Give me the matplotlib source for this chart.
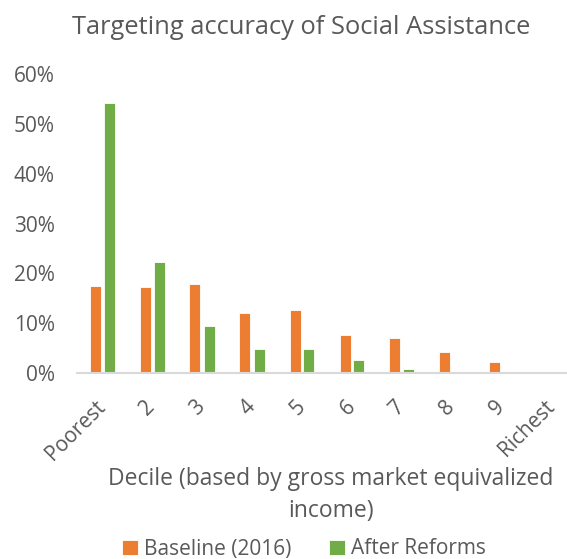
import numpy as np
import matplotlib.pyplot as plt

plt.rcParams['font.family'] = ['Open Sans', 'DejaVu Sans']

deciles = ['Poorest', '2', '3', '4', '5', '6', '7', '8', '9', 'Richest']
baseline = [17.5, 17.3, 17.8, 12.1, 12.7, 7.7, 7.0, 4.3, 2.2, 0.0]
after = [54.2, 22.3, 9.4, 4.8, 4.8, 2.6, 0.8, -0.1, 0.2, 0.0]

orange = '#ED7D31'
green = '#70AD47'
grey = '#595959'

W, H = 567, 559
fig = plt.figure(figsize=(W / 100, H / 100), dpi=100)
# plot area runs a bit past the right edge
ax = fig.add_axes([77 / W, 1 - 373 / H, 500 / W, (373 - 74) / H])

x = np.arange(len(deciles))
bw = 0.22
ax.bar(x - 0.14, baseline, bw, color=orange, edgecolor='white', linewidth=0.6,
       label='Baseline (2016)', zorder=3)
ax.bar(x + 0.14, after, bw, color=green, edgecolor='white', linewidth=0.6,
       label='After Reforms', zorder=3)

ax.set_xlim(-0.5, len(deciles) - 0.5)
ax.set_ylim(0, 60)
ax.set_yticks(np.arange(0, 61, 10))
ax.set_yticklabels([f'{v}%' for v in range(0, 61, 10)], fontsize=15, color=grey)
ax.set_xticks(x)
ax.set_xticklabels(deciles, rotation=45, ha='right', va='center',
                   rotation_mode='anchor', fontsize=15, color=grey)
ax.tick_params(length=0)
ax.tick_params(axis='y', pad=16)
ax.tick_params(axis='x', pad=22)

for s in ['top', 'right', 'left']:
    ax.spines[s].set_visible(False)
ax.spines['bottom'].set_color('#D9D9D9')
ax.spines['bottom'].set_linewidth(1.5)
ax.spines['bottom'].set_zorder(4)

fig.text(301 / W, 1 - 27 / H, 'Targeting accuracy of Social Assistance',
         ha='center', va='center', fontsize=18.4, color=grey)
fig.text(331 / W, 1 - 495 / H, 'Decile (based by gross market equivalized\nincome)',
         ha='center', va='center', fontsize=16.5, color=grey, linespacing=1.42)

fig.legend(loc='center', bbox_to_anchor=(304 / W, 1 - 549 / H), ncol=2,
           frameon=False, fontsize=15, labelcolor=grey, handlelength=0.75,
           handleheight=0.75, handletextpad=0.3, columnspacing=1.8,
           borderpad=0, borderaxespad=0)

fig.savefig('out.png', dpi=100)
